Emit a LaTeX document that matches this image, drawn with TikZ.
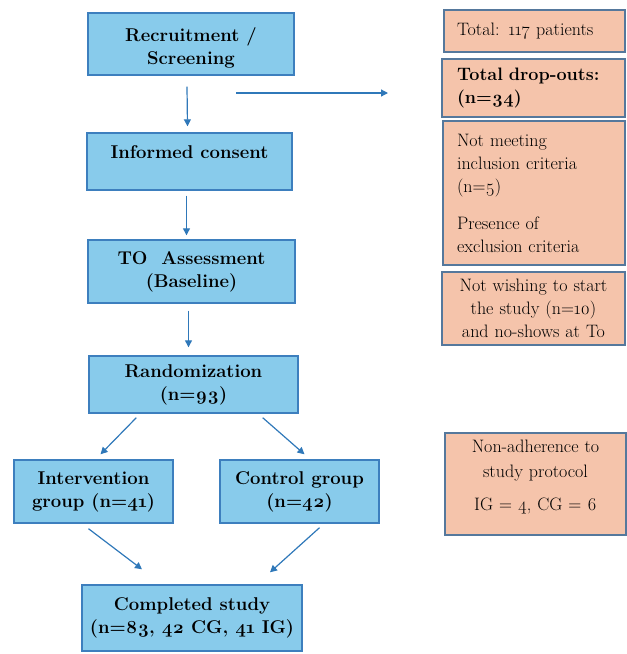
\documentclass[tikz,border=0pt]{standalone}
\usepackage{fontspec}
\setmainfont{Latin Modern Roman}[Numbers=OldStyle]
\usetikzlibrary{arrows.meta,calc}
\definecolor{bluefill}{HTML}{88CBEB}
\definecolor{blueline}{HTML}{3D7FBE}
\definecolor{salfill}{HTML}{F5C4AB}
\definecolor{salline}{HTML}{55789C}
\definecolor{arrcol}{HTML}{2F78B9}
\tikzset{
  bbox/.style={draw=blueline, fill=bluefill, line width=1.4pt, align=center,
    font=\fontsize{18.5}{23}\selectfont\bfseries, inner sep=2pt},
  sbox/.style={draw=salline, fill=salfill, line width=1.4pt,
    font=\fontsize{18}{23}\selectfont, inner sep=2pt},
  arr/.style={draw=arrcol, line width=1.2pt, -{Triangle[length=7pt,width=7pt]}}
}
\begin{document}
\begin{tikzpicture}[x=1pt,y=-1pt]
\useasboundingbox (0,0) rectangle (627,654);
% blue chain
\node[bbox, minimum width=206pt, minimum height=62pt] (rec) at (191,44) {\strut\\[-17pt]Recruitment /\\Screening};
\node[bbox, minimum width=205pt, minimum height=57pt] (cons) at (189.5,161.5) {Informed consent\\[-10pt]\strut};
\node[bbox, minimum width=207pt, minimum height=63pt] (t0) at (191.5,271.5) {TO\ \ Assessment\\(Baseline)};
\node[bbox, minimum width=209pt, minimum height=57pt] (rand) at (193.5,384.5) {Randomization\\(n=93)};
\node[bbox, minimum width=159pt, minimum height=63pt] (inter) at (93.5,491.5) {Intervention\\group (n=41)};
\node[bbox, minimum width=159pt, minimum height=63pt] (ctrl) at (299.5,491.5) {Control group\\(n=42)};
\node[bbox, minimum width=220pt, minimum height=66pt] (comp) at (192,618) {Completed study\\(n=83, 42 CG, 41 IG)};
% right boxes
\node[sbox, minimum width=181pt, minimum height=42pt, align=left, text width=155pt] (tot) at (534.5,31) {Total: 117 patients};
\node[sbox, minimum width=183pt, minimum height=58pt, align=left, text width=153pt] (drop) at (533.5,88) {\textbf{Total drop-outs:}\\\textbf{(n=34)}};
\node[sbox, minimum width=182pt, minimum height=144pt, align=left, text width=154pt] (notm) at (534,193) {Not meeting\\inclusion criteria\\(n=5)\\[14pt]Presence of\\exclusion criteria};
\node[sbox, minimum width=183pt, minimum height=73pt, align=center, text width=175pt] (notw) at (533.5,308.5) {Not wishing to start\\the study (n=10)\\and no-shows at To};
\node[sbox, minimum width=181pt, minimum height=102pt, align=center, text width=175pt] (nonad) at (535.5,484) {Non-adherence to\\[2pt]study protocol\\[10pt]IG = 4, CG = 6\\[-12pt]\strut};
% arrows
\draw[arr] ($(rec.south)+(-4,11)$) -- ($(cons.north)+(-2,-6)$);
\draw[arr] ($(cons.south)+(-3,5)$) -- ($(t0.north)+(-5,-4)$);
\draw[arr] ($(t0.south)+(-3,7)$) -- ($(rand.north)+(-5,-8)$);
\coordinate (hs) at (236,93);
\coordinate (he) at (388,93);
\draw[arr] (hs) -- (he);
\draw[arr] ($(rand.south west)+(48,4)$) -- ($(inter.north)+(7,-5)$);
\draw[arr] ($(rand.south east)+(-36,4)$) -- ($(ctrl.north)+(5,-5)$);
\draw[arr] ($(inter.south)+(-5,5)$) -- ($(comp.north)+(-50,-15)$);
\draw[arr] ($(ctrl.south)+(20,4)$) -- ($(comp.north)+(78,-12)$);
\end{tikzpicture}
\end{document}
